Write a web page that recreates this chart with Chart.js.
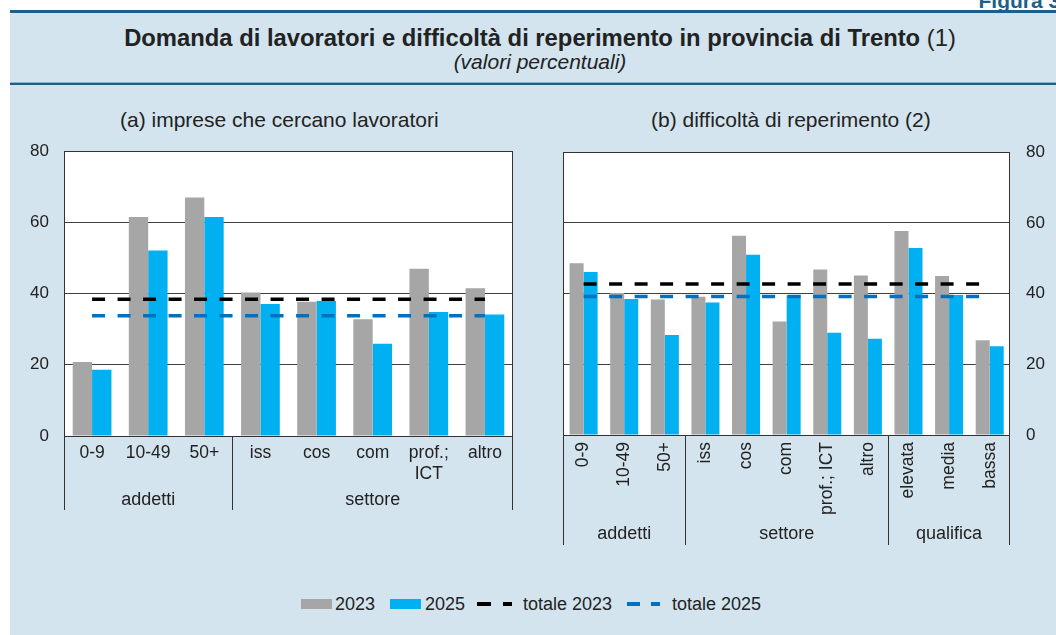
<!DOCTYPE html>
<html>
<head>
<meta charset="utf-8">
<script src="https://cdn.jsdelivr.net/npm/chart.js@4/dist/chart.umd.min.js"></script>
<style>
  html, body { margin:0; padding:0; background:#ffffff; width:1056px; height:635px; overflow:hidden; font-family:"Liberation Sans", Arial, sans-serif; color:#222; }
  #fig { position:absolute; left:10px; top:10px; width:1060px; height:640px; background:#d3e4ee; border-top:3px solid #1b5f8c; }
  .abs { position:absolute; white-space:nowrap; }
  #title { left:10px; width:1060px; top:24px; text-align:center; font-size:23.8px; line-height:28px; }
  #title b { font-weight:bold; }
  #sub { left:10px; width:1060px; top:50px; text-align:center; font-size:21px; font-style:italic; line-height:24px; }
  #rule { left:10px; top:82px; width:1060px; height:1px; background:#8fb3cc; }
  #rule2 { left:10px; top:83px; width:1060px; height:2px; background:#1b5f8c; }
  #figlab { right:-10px; top:-11px; font-size:21px; font-weight:bold; color:#1b5f8c; }
  .ptitle { font-size:21px; top:107px; line-height:26px; }
  canvas { position:absolute; }
  .leg { position:absolute; font-size:18px; line-height:20px; top:594px; }
  .box { position:absolute; top:599px; height:10px; width:31px; }
  .dash { position:absolute; top:602px; height:4px; }
</style>
</head>
<body>
<div id="fig"></div>
<div class="abs" id="figlab">Figura 3.</div>
<div class="abs" id="title"><b>Domanda di lavoratori e difficoltà di reperimento in provincia di Trento</b> (1)</div>
<div class="abs" id="sub">(valori percentuali)</div>
<div class="abs" id="rule"></div>
<div class="abs" id="rule2"></div>
<div class="abs ptitle" style="left:120px;">(a) imprese che cercano lavoratori</div>
<div class="abs ptitle" style="left:651px;">(b) difficoltà di reperimento (2)</div>

<canvas id="cA" width="530" height="394" style="left:0px; top:126px;"></canvas>
<canvas id="cB" width="516" height="434" style="left:540px; top:126px;"></canvas>

<div class="box" style="left:301px; background:#a6a6a6;"></div>
<div class="leg" style="left:335px;">2023</div>
<div class="box" style="left:390px; background:#00b0f0;"></div>
<div class="leg" style="left:425px;">2025</div>
<div class="dash" style="left:477px; width:14px; background:#000;"></div>
<div class="dash" style="left:503px; width:9px; background:#000;"></div>
<div class="leg" style="left:523px;">totale 2023</div>
<div class="dash" style="left:627px; width:13px; background:#0070c0;"></div>
<div class="dash" style="left:651px; width:9px; background:#0070c0;"></div>
<div class="leg" style="left:672px;">totale 2025</div>

<script>
// ---------- data ----------
const yTicks = [0, 20, 40, 60, 80];

// (a) imprese che cercano lavoratori
const catsA = ['0-9', '10-49', '50+', 'iss', 'cos', 'com', ['prof.;', 'ICT'], 'altro'];
const a2023 = [20.8, 61.5, 67.0, 40.3, 37.7, 32.8, 47.0, 41.5];
const a2025 = [18.6, 52.1, 61.5, 37.1, 37.9, 25.9, 34.8, 34.1];
const aTot2023 = [38.4, 38.4, 38.4, 38.4, 38.4, 38.4, 38.4, 38.4];
const aTot2025 = [33.8, 33.8, 33.8, 33.8, 33.8, 33.8, 33.8, 33.8];
const groupsA = [
  { label: 'addetti', from: 0, to: 2 },
  { label: 'settore', from: 3, to: 7 }
];

// (b) difficoltà di reperimento
const catsB = ['0-9', '10-49', '50+', 'iss', 'cos', 'com', 'prof.; ICT', 'altro', 'elevata', 'media', 'bassa'];
const b2023 = [48.6, 40.2, 38.3, 39.1, 56.4, 32.1, 46.8, 45.1, 57.7, 45.0, 26.8];
const b2025 = [46.1, 38.5, 28.3, 37.5, 51.0, 39.5, 28.9, 27.2, 52.9, 39.6, 25.1];
const bTot2023 = [42.7, 42.7, 42.7, 42.7, 42.7, 42.7, 42.7, 42.7, 42.7, 42.7, 42.7];
const bTot2025 = [39.2, 39.2, 39.2, 39.2, 39.2, 39.2, 39.2, 39.2, 39.2, 39.2, 39.2];
const groupsB = [
  { label: 'addetti', from: 0, to: 2 },
  { label: 'settore', from: 3, to: 7 },
  { label: 'qualifica', from: 8, to: 10 }
];

// ---------- styles ----------
const FONT = '"Liberation Sans", Arial, sans-serif';
const TXT = '#222222';
const GRAY = '#a6a6a6', BLUE = '#00b0f0', DARK = '#000000', DBLUE = '#0070c0';

const framePlugin = {
  id: 'frame',
  beforeDraw(chart) {
    const { ctx, chartArea: a } = chart;
    ctx.save();
    ctx.fillStyle = '#ffffff';
    ctx.fillRect(a.left, a.top, a.right - a.left, a.bottom - a.top);
    ctx.restore();
  },
  afterDraw(chart, args, opts) {
    const { ctx, chartArea: a, scales: { x } } = chart;
    const n = chart.data.labels.length;
    const w = (x.right - x.left) / n;
    ctx.save();
    ctx.strokeStyle = '#333333';
    ctx.lineWidth = 1;
    ctx.strokeRect(Math.round(a.left) + 0.5, Math.round(a.top) + 0.5,
                   Math.round(a.right) - Math.round(a.left) - 1, Math.round(a.bottom) - Math.round(a.top));
    const groups = opts.groups || [];
    const bounds = new Set();
    ctx.font = '18px ' + FONT;
    ctx.fillStyle = TXT;
    ctx.textAlign = 'center';
    ctx.textBaseline = 'middle';
    groups.forEach(g => {
      const l = x.getPixelForValue(g.from) - w / 2;
      const r = x.getPixelForValue(g.to) + w / 2;
      bounds.add(Math.round(l)); bounds.add(Math.round(r));
      ctx.fillText(g.label, (l + r) / 2, a.bottom + opts.labelY);
    });
    ctx.beginPath();
    bounds.forEach(px => {
      const xx = Math.min(Math.max(px, Math.round(a.left)), Math.round(a.right) - 1) + 0.5;
      ctx.moveTo(xx, a.bottom);
      ctx.lineTo(xx, a.bottom + opts.sepLen);
    });
    ctx.stroke();
    ctx.restore();
  }
};

function makeChart(id, cats, v23, v25, t23, t25, groups, cfg) {
  return new Chart(document.getElementById(id), {
    type: 'bar',
    data: {
      labels: cats,
      datasets: [
        { type: 'line', label: 'totale 2023', data: t23, borderColor: DARK, borderWidth: 3.5,
          borderDash: [13, 12.5], pointRadius: 0, fill: false, order: 0 },
        { type: 'line', label: 'totale 2025', data: t25, borderColor: DBLUE, borderWidth: 3.5,
          borderDash: [13, 12.5], pointRadius: 0, fill: false, order: 0 },
        { label: '2023', data: v23, backgroundColor: GRAY, categoryPercentage: 0.69, barPercentage: 1.0, order: 1 },
        { label: '2025', data: v25, backgroundColor: BLUE, categoryPercentage: 0.69, barPercentage: 1.0, order: 1 }
      ]
    },
    options: {
      responsive: false,
      animation: false,
      devicePixelRatio: 1,
      layout: { padding: cfg.padding },
      plugins: {
        legend: { display: false },
        tooltip: { enabled: false },
        frame: { groups: groups, labelY: cfg.labelY, sepLen: cfg.sepLen }
      },
      scales: {
        x: {
          offset: true,
          grid: { display: false, drawTicks: false },
          border: { display: false },
          ticks: {
            color: TXT, font: { family: FONT, size: 17.5 }, padding: cfg.xPad,
            minRotation: cfg.rot, maxRotation: cfg.rot, autoSkip: false
          },
          afterFit: s => { s.height = cfg.xHeight; }
        },
        y: {
          position: cfg.yPos,
          min: 0, max: 80,
          afterBuildTicks: s => { s.ticks = yTicks.map(v => ({ value: v })); },
          grid: { color: '#404040', lineWidth: 1, drawTicks: false },
          border: { display: false },
          ticks: { color: TXT, font: { family: FONT, size: 17 }, padding: cfg.yPad },
          afterFit: s => { s.width = cfg.yWidth; }
        }
      }
    },
    plugins: [framePlugin]
  });
}

makeChart('cA', catsA, a2023, a2025, aTot2023, aTot2025, groupsA, {
  padding: { top: 11.7, left: 0, right: 17, bottom: 0 },
  yPos: 'left', yWidth: 64, yPad: 15,
  xHeight: 84, xPad: 7, rot: 0,
  labelY: 64, sepLen: 74
});

makeChart('cB', catsB, b2023, b2025, bTot2023, bTot2025, groupsB, {
  padding: { top: 11, left: 23.3, right: 0, bottom: 0 },
  yPos: 'right', yWidth: 46, yPad: 16,
  xHeight: 125, xPad: 7, rot: 90,
  labelY: 99, sepLen: 110
});
</script>
</body>
</html>
